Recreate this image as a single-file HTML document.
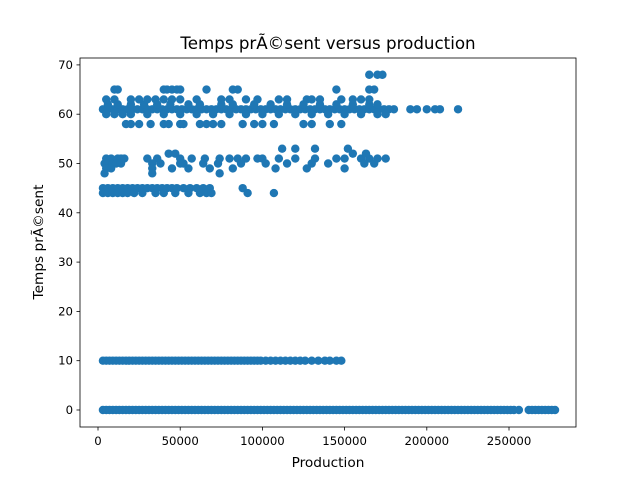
<!DOCTYPE html>
<html><head><meta charset="utf-8"><style>
body{margin:0;background:#fff;}
svg{display:block;font-family:"DejaVu Sans","Liberation Sans",sans-serif;}
</style></head><body>
<svg id="chart" width="640" height="480">
<rect width="640" height="480" fill="#fff"/>
<text x="328" y="49" text-anchor="middle" font-size="16.7">Temps prÃ©sent versus production</text>
<g id="marks"></g>
<g id="axes"></g>
<text x="328" y="467" text-anchor="middle" font-size="13.7">Production</text>
<text transform="translate(43,242) rotate(-90)" text-anchor="middle" font-size="13.7">Temps prÃ©sent</text>
</svg>
<script>
const xTicks=[0,50000,100000,150000,200000,250000];
const yTicks=[0,10,20,30,40,50,60,70];
const row0X=[3000,5000,7000,9000,11000,13000,15000,17000,19000,21000,23000,25000,27000,29000,31000,33000,35000,37000,39000,41000,43000,45000,47000,49000,51000,53000,55000,57000,59000,61000,63000,65000,67000,69000,71000,73000,75000,77000,79000,81000,83000,85000,87000,89000,91000,93000,95000,97000,99000,101000,103000,105000,107000,109000,111000,113000,115000,117000,119000,121000,123000,125000,127000,129000,131000,133000,135000,137000,139000,141000,143000,145000,147000,149000,151000,153000,155000,157000,159000,161000,163000,165000,167000,169000,171000,173000,175000,177000,179000,181000,183000,185000,187000,189000,191000,193000,195000,197000,199000,201000,203000,205000,207000,209000,211000,213000,215000,217000,219000,221000,223000,225000,227000,229000,231000,233000,235000,237000,239000,241000,243000,245000,247000,249000,251000,253000,256000,262000,264000,266000,268000,270000,272000,274000,276000,278000];
const row10X=[3000,5000,7000,9000,11000,13000,15000,17000,19000,21000,23000,25000,27000,29000,31000,33000,35000,37000,39000,41000,43000,45000,47000,49000,51000,53000,55000,57000,59000,61000,63000,65000,67000,69000,71000,73000,75000,77000,79000,81000,83000,85000,87000,89000,91000,93000,95000,97000,99000,102000,105000,108000,111000,114000,117000,120000,123000,126000,130000,134000,138000,141000,145000,148000];
const row45X=[3000,6000,9000,12000,15000,18000,21000,24000,27000,30000,33000,36000,39000,42000,45000,48000,52000,56000,60000,64000,68000,88000];
const row44X=[3000,6000,9000,12000,15000,18000,22000,27000,35000,40000,47000,55000,62000,66000,69000,91000,107000];
const row61X=[3000,6000,9000,12000,15000,18000,21000,24000,27000,30000,33000,36000,39000,42000,45000,48000,51000,54000,57000,60000,63000,66000,69000,72000,75000,78000,81000,84000,87000,90000,93000,96000,99000,102000,105000,108000,111000,114000,117000,120000,123000,126000,129000,132000,135000,138000,141000,144000,147000,150000,153000,156000,159000,162000,165000,168000,171000,174000,177000,180000,190000,194000,200000,205000,208000,219000];
const row60X=[5000,10000,15000,20000,30000,40000,50000,60000,70000,80000,90000,100000,110000,120000,130000,140000,150000,160000,170000,175000];
const row62X=[6000,12000,20000,28000,36000,44000,55000,62000,75000,82000,95000,105000,115000,125000,135000,145000,155000,165000,170000];
const row63X=[5000,10000,20000,25000,30000,35000,40000,45000,50000,60000,75000,80000,90000,97000,110000,115000,127000,130000,135000,148000,155000,160000,165000];
const row58X=[17000,20000,25000,32000,40000,43000,50000,52000,62000,66000,70000,75000,88000,95000,100000,107000,125000,130000,141000,148000];
const row65X=[10000,12000,40000,42000,45000,48000,50000,66000,82000,85000,145000,165000,168000];
const row68X=[165000,170000,173000];
const row51X=[5000,8000,12000,14000,16000,30000,36000,50000,57000,65000,74000,80000,85000,90000,97000,100000,110000,120000,132000,145000,150000,160000,165000,170000,175000];
const row50X=[4000,6000,9000,11000,14000,33000,38000,50000,52000,64000,73000,87000,102000,115000,130000,140000,162000,168000];
const row49X=[5000,8000,33000,45000,55000,68000,82000,108000,127000,150000];
const row48X=[4000,33000,74000];
const row52X=[43000,47000,155000,163000];
const row53X=[112000,120000,132000,152000];
const xMin=-10950,xMax=290750,yMin=-3.45,yMax=71.4;
const L=80,R=576,T=58,B=427;
function sx(v){return L+(v-xMin)/(xMax-xMin)*(R-L);}
function sy(v){return B-(v-yMin)/(yMax-yMin)*(B-T);}
const NS="http://www.w3.org/2000/svg";
const marks=document.getElementById('marks');
const rows=[[0,row0X],[10,row10X],[45,row45X],[44,row44X],[61,row61X],[60,row60X],[62,row62X],[63,row63X],[58,row58X],[65,row65X],[68,row68X],[51,row51X],[50,row50X],[49,row49X],[48,row48X],[52,row52X],[53,row53X]];
rows.forEach(r=>{r[1].forEach(x=>{
 const c=document.createElementNS(NS,'circle');
 c.setAttribute('cx',sx(x));c.setAttribute('cy',sy(r[0]));c.setAttribute('r',4.2);c.setAttribute('fill','#1f77b4');
 
 
 marks.appendChild(c);});});
const ax=document.getElementById('axes');
ax.innerHTML=`<rect x="${L}" y="${T}" width="${R-L}" height="${B-T}" fill="none" stroke="#000" stroke-width="0.8"/>`;
xTicks.forEach(t=>{
 const x=sx(t);
 const ln=document.createElementNS(NS,'line');
 ln.setAttribute('x1',x);ln.setAttribute('x2',x);ln.setAttribute('y1',B);ln.setAttribute('y2',B+3.5);ln.setAttribute('stroke','#000');ln.setAttribute('stroke-width','0.8');
 
 
 ax.appendChild(ln);
 const tx=document.createElementNS(NS,'text');
 tx.setAttribute('x',x);tx.setAttribute('y',B+18);tx.setAttribute('text-anchor','middle');tx.setAttribute('font-size','11.7');tx.textContent=t;
 
 
 ax.appendChild(tx);});
yTicks.forEach(t=>{
 const y=sy(t);
 const ln=document.createElementNS(NS,'line');
 ln.setAttribute('x1',L-3.5);ln.setAttribute('x2',L);ln.setAttribute('y1',y);ln.setAttribute('y2',y);ln.setAttribute('stroke','#000');ln.setAttribute('stroke-width','0.8');
 
 
 ax.appendChild(ln);
 const tx=document.createElementNS(NS,'text');
 tx.setAttribute('x',L-7);tx.setAttribute('y',y+4);tx.setAttribute('text-anchor','end');tx.setAttribute('font-size','11.7');tx.textContent=t;
 
 
 ax.appendChild(tx);});
</script>
</body></html>
